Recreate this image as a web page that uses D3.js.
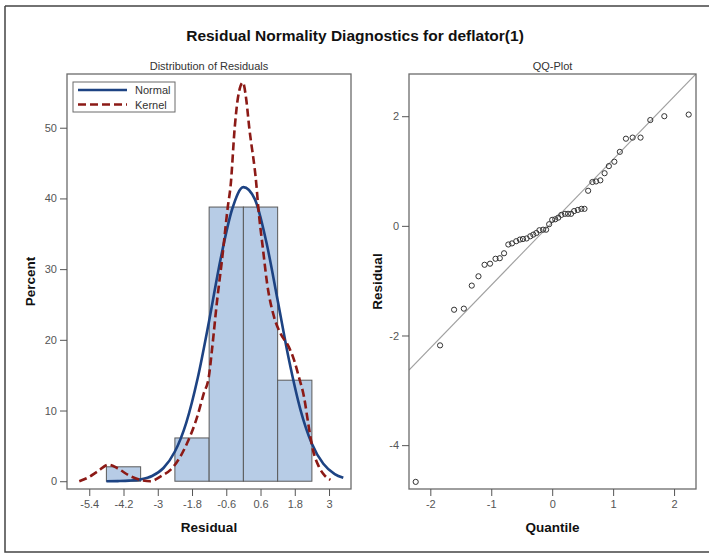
<!DOCTYPE html>
<html>
<head>
<meta charset="utf-8">
<script src="https://cdn.jsdelivr.net/npm/d3@7"></script>
<style>
  body { margin: 0; background: #fff; }
  text { font-family: "Liberation Sans", Arial, sans-serif; }
</style>
</head>
<body>
<div id="chart"></div>
<script>
// histogram bins (percent)
const binEdges = [-4.8, -3.6, -2.4, -1.2, 0, 1.2, 2.4];
const binPercent = [2.04, 0, 6.12, 38.78, 38.78, 14.29];

// normal density curve (residual, percent)
const normalX = [-4.8, -4.4, -4.0, -3.6, -3.2, -2.8, -2.4, -2.0, -1.6, -1.2, -0.8, -0.4, 0.0, 0.4, 0.8, 1.2, 1.6, 2.0, 2.4, 2.8, 3.2, 3.5];
const normalY = [0.0, 0.02, 0.08, 0.26, 0.74, 1.87, 4.2, 8.3, 14.6, 22.7, 31.4, 38.4, 41.6, 39.9, 33.9, 25.6, 17.1, 10.1, 5.3, 2.46, 1.01, 0.48];

// kernel density curve
const kernelX = [-5.75, -5.45, -5.1, -4.72, -4.4, -4.0, -3.61, -3.26, -2.91, -2.44, -1.97, -1.62, -1.39, -1.21, -1.1, -0.92, -0.75, -0.54, -0.45, -0.3, -0.2, -0.02, 0.1, 0.2, 0.46, 0.52, 0.69, 0.83, 1.07, 1.3, 1.59, 1.77, 1.94, 2.12, 2.29, 2.41, 2.64, 2.85, 3.05];
const kernelY = [0, 0.5, 1.4, 2.35, 1.8, 0.8, 0.2, 0, 0.65, 2.1, 5.4, 9.1, 12.4, 14.8, 18.6, 25.6, 31.3, 39, 41.7, 50.2, 54, 56.4, 54, 50.2, 41.7, 38.8, 32.7, 28, 23.3, 20.9, 19, 17.2, 14.8, 12, 7.7, 4.9, 2.1, 0.8, 0.2];

// QQ plot: normal quantiles and sorted residuals
const qqQuantile = [-2.24, -1.84, -1.61, -1.45, -1.32, -1.21, -1.11, -1.02, -0.93, -0.86, -0.79, -0.72, -0.66, -0.59, -0.53, -0.48, -0.42, -0.36, -0.31, -0.26, -0.21, -0.15, -0.10, -0.05, 0.0,
  0.05, 0.10, 0.15, 0.21, 0.26, 0.31, 0.36, 0.42, 0.48, 0.53, 0.59, 0.66, 0.72, 0.79, 0.86, 0.93, 1.02, 1.11, 1.21, 1.32, 1.45, 1.61, 1.84, 2.24];
const qqResidual = [-4.67, -2.18, -1.53, -1.51, -1.09, -0.92, -0.71, -0.69, -0.60, -0.59, -0.50, -0.34, -0.32, -0.28, -0.25, -0.24, -0.23, -0.19, -0.16, -0.13, -0.08, -0.07, -0.07, 0.03, 0.11,
  0.12, 0.15, 0.20, 0.22, 0.22, 0.22, 0.27, 0.29, 0.31, 0.31, 0.64, 0.80, 0.81, 0.83, 0.96, 1.09, 1.17, 1.35, 1.59, 1.61, 1.61, 1.93, 2.00, 2.03];
const refIntercept = 0.065;
const refSlope = 1.147;

const histTicksX = [-5.4, -4.2, -3, -1.8, -0.6, 0.6, 1.8, 3];
const histTicksY = [0, 10, 20, 30, 40, 50];
const qqTicksX = [-2, -1, 0, 1, 2];
const qqTicksY = [-4, -2, 0, 2];

const width = 709, height = 553;
const svg = d3.select("#chart").append("svg")
    .attr("width", width)
    .attr("height", height);

// plain hyphen for negative tick labels, like the original
const fmt = d => String(d);

// outer border
svg.append("path")
    .attr("d", "M5,6 H712 M5,6 V552 H712")
    .attr("fill", "none")
    .attr("stroke", "#444")
    .attr("stroke-width", 1.5);

svg.append("text")
    .attr("x", 355).attr("y", 41)
    .attr("text-anchor", "middle")
    .attr("font-size", 15.5)
    .attr("font-weight", "bold")
    .attr("fill", "#111")
    .text("Residual Normality Diagnostics for deflator(1)");

const tickColor = "#555";
const frameColor = "#6b6b6b";

// ---------- left panel: histogram ----------
const L = { x0: 67, x1: 351, y0: 74, y1: 489 };
const hx = d3.scaleLinear().domain([-6.18, 3.77]).range([L.x0, L.x1]);
const hy = d3.scaleLinear().domain([-1.1, 57.6]).range([L.y1, L.y0]);

const left = svg.append("g");

left.append("text")
    .attr("x", (L.x0 + L.x1) / 2).attr("y", 70)
    .attr("text-anchor", "middle")
    .attr("font-size", 11)
    .attr("fill", "#333")
    .text("Distribution of Residuals");

const bins = binPercent.map((p, i) => ({ lo: binEdges[i], hi: binEdges[i + 1], p: p }));
left.selectAll("rect.bar")
    .data(bins.filter(d => d.p > 0))
    .enter().append("rect")
    .attr("class", "bar")
    .attr("x", d => hx(d.lo))
    .attr("y", d => hy(d.p))
    .attr("width", d => hx(d.hi) - hx(d.lo))
    .attr("height", d => hy(0) - hy(d.p))
    .attr("fill", "#b7cce6")
    .attr("stroke", "#5a5a5a")
    .attr("stroke-width", 1);

const clipL = svg.append("clipPath").attr("id", "clipL");
clipL.append("rect").attr("x", L.x0).attr("y", L.y0).attr("width", L.x1 - L.x0).attr("height", L.y1 - L.y0);

const line = d3.line().x(d => hx(d[0])).y(d => hy(d[1])).curve(d3.curveMonotoneX);

left.append("path")
    .datum(normalX.map((x, i) => [x, normalY[i]]))
    .attr("clip-path", "url(#clipL)")
    .attr("d", line)
    .attr("fill", "none")
    .attr("stroke", "#1d4383")
    .attr("stroke-width", 2.6);

left.append("path")
    .datum(kernelX.map((x, i) => [x, kernelY[i]]))
    .attr("clip-path", "url(#clipL)")
    .attr("d", line)
    .attr("fill", "none")
    .attr("stroke", "#8c1a16")
    .attr("stroke-width", 2.6)
    .attr("stroke-dasharray", "8,4");

left.append("rect")
    .attr("x", L.x0).attr("y", L.y0)
    .attr("width", L.x1 - L.x0).attr("height", L.y1 - L.y0)
    .attr("fill", "none")
    .attr("stroke", frameColor)
    .attr("stroke-width", 1.3);

const hxAxis = left.append("g")
    .attr("transform", `translate(0,${L.y1})`)
    .call(d3.axisBottom(hx).tickValues(histTicksX).tickSize(7).tickPadding(4).tickFormat(fmt));
const hyAxis = left.append("g")
    .attr("transform", `translate(${L.x0},0)`)
    .call(d3.axisLeft(hy).tickValues(histTicksY).tickSize(7).tickPadding(3).tickFormat(fmt));
[hxAxis, hyAxis].forEach(a => {
    a.select(".domain").remove();
    a.selectAll("line").attr("stroke", tickColor);
    a.selectAll("text").attr("fill", tickColor).attr("font-size", 11)
        .attr("font-family", "Liberation Sans, Arial, sans-serif");
});

left.append("text")
    .attr("x", (L.x0 + L.x1) / 2).attr("y", 532)
    .attr("text-anchor", "middle")
    .attr("font-size", 13.5).attr("font-weight", "bold").attr("fill", "#111")
    .text("Residual");
left.append("text")
    .attr("transform", `translate(35,${(L.y0 + L.y1) / 2}) rotate(-90)`)
    .attr("text-anchor", "middle")
    .attr("font-size", 13.5).attr("font-weight", "bold").attr("fill", "#111")
    .text("Percent");

// legend
const legend = left.append("g").attr("transform", "translate(73,82)");
legend.append("rect")
    .attr("width", 102).attr("height", 30)
    .attr("fill", "#fff").attr("stroke", "#6b6b6b").attr("stroke-width", 1);
legend.append("line").attr("x1", 5).attr("x2", 54).attr("y1", 8).attr("y2", 8)
    .attr("stroke", "#1d4383").attr("stroke-width", 2.6);
legend.append("line").attr("x1", 5).attr("x2", 54).attr("y1", 22.5).attr("y2", 22.5)
    .attr("stroke", "#8c1a16").attr("stroke-width", 2.6).attr("stroke-dasharray", "8,4");
legend.append("text").attr("x", 62).attr("y", 12).attr("font-size", 11).attr("fill", "#333").text("Normal");
legend.append("text").attr("x", 62).attr("y", 26.5).attr("font-size", 11).attr("fill", "#333").text("Kernel");

// ---------- right panel: QQ plot ----------
const R = { x0: 409, x1: 696, y0: 74, y1: 489 };
const qx = d3.scaleLinear().domain([-2.35, 2.36]).range([R.x0, R.x1]);
const qy = d3.scaleLinear().domain([-4.8, 2.77]).range([R.y1, R.y0]);

const right = svg.append("g");
right.append("text")
    .attr("x", (R.x0 + R.x1) / 2).attr("y", 70)
    .attr("text-anchor", "middle")
    .attr("font-size", 11)
    .attr("fill", "#333")
    .text("QQ-Plot");

const clipR = svg.append("clipPath").attr("id", "clipR");
clipR.append("rect").attr("x", R.x0).attr("y", R.y0).attr("width", R.x1 - R.x0).attr("height", R.y1 - R.y0);

const qd = qx.domain();
right.append("line")
    .attr("clip-path", "url(#clipR)")
    .attr("x1", qx(qd[0])).attr("y1", qy(refIntercept + refSlope * qd[0]))
    .attr("x2", qx(qd[1])).attr("y2", qy(refIntercept + refSlope * qd[1]))
    .attr("stroke", "#a0a0a0").attr("stroke-width", 1.1);

right.selectAll("circle")
    .data(qqQuantile.map((q, i) => [q, qqResidual[i]]))
    .enter().append("circle")
    .attr("cx", d => qx(d[0]))
    .attr("cy", d => qy(d[1]))
    .attr("r", 2.6)
    .attr("fill", "none")
    .attr("stroke", "#333")
    .attr("stroke-width", 1);

right.append("rect")
    .attr("x", R.x0).attr("y", R.y0)
    .attr("width", R.x1 - R.x0).attr("height", R.y1 - R.y0)
    .attr("fill", "none")
    .attr("stroke", frameColor)
    .attr("stroke-width", 1.3);

const qxAxis = right.append("g")
    .attr("transform", `translate(0,${R.y1})`)
    .call(d3.axisBottom(qx).tickValues(qqTicksX).tickSize(7).tickPadding(4).tickFormat(fmt));
const qyAxis = right.append("g")
    .attr("transform", `translate(${R.x0},0)`)
    .call(d3.axisLeft(qy).tickValues(qqTicksY).tickSize(7).tickPadding(3).tickFormat(fmt));
[qxAxis, qyAxis].forEach(a => {
    a.select(".domain").remove();
    a.selectAll("line").attr("stroke", tickColor);
    a.selectAll("text").attr("fill", tickColor).attr("font-size", 11)
        .attr("font-family", "Liberation Sans, Arial, sans-serif");
});

right.append("text")
    .attr("x", (R.x0 + R.x1) / 2).attr("y", 532)
    .attr("text-anchor", "middle")
    .attr("font-size", 13.5).attr("font-weight", "bold").attr("fill", "#111")
    .text("Quantile");
right.append("text")
    .attr("transform", `translate(382,${(R.y0 + R.y1) / 2}) rotate(-90)`)
    .attr("text-anchor", "middle")
    .attr("font-size", 13.5).attr("font-weight", "bold").attr("fill", "#111")
    .text("Residual");
</script>
</body>
</html>
